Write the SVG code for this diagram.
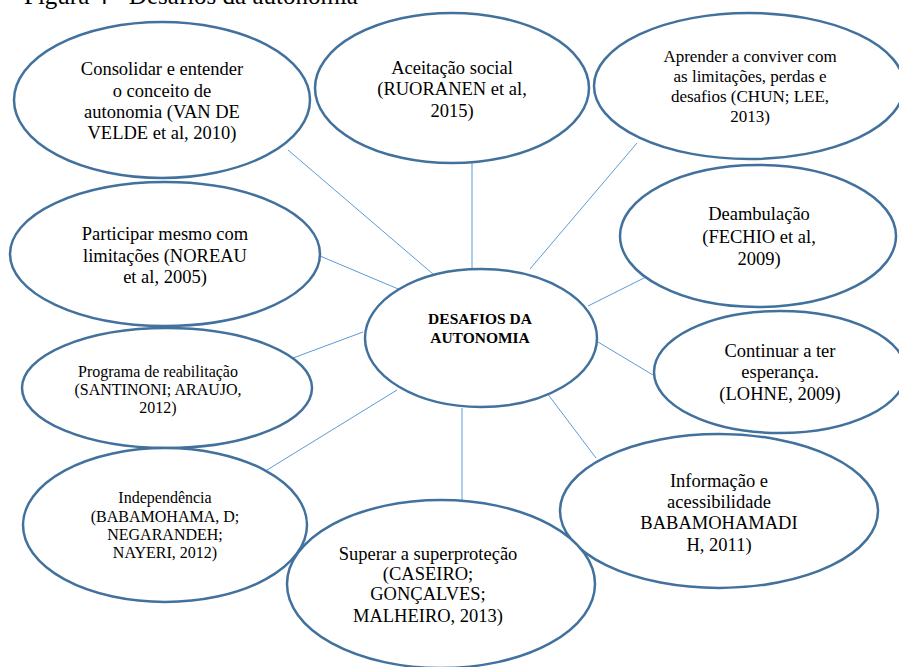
<svg xmlns="http://www.w3.org/2000/svg" width="899" height="667" viewBox="0 0 899 667">
<style>
.node ellipse{fill:#fff;stroke:#41719C;stroke-width:2.5}
.t{font-family:"Liberation Serif","Times New Roman",serif;font-size:18.5px;fill:#000;text-anchor:middle}
.s{font-size:16px}
.m{font-size:17px}
.b{font-weight:bold;font-size:15.5px}
#connectors line{stroke:#5B9BD5;stroke-width:1}
</style>
<rect width="899" height="667" fill="#fff"/>
<text x="24" y="4" style="font-family:'Liberation Serif','Times New Roman',serif;font-size:25px">Figura 4 - Desafios da autonomia</text>
<g id="connectors">
<line x1="288" y1="150" x2="433" y2="274"/>
<line x1="472" y1="160" x2="472" y2="269"/>
<line x1="637" y1="143" x2="530" y2="269"/>
<line x1="320" y1="256" x2="403" y2="291"/>
<line x1="652" y1="274" x2="588" y2="306"/>
<line x1="598" y1="342" x2="653" y2="375"/>
<line x1="293" y1="358" x2="363" y2="332"/>
<line x1="397" y1="390" x2="267" y2="470"/>
<line x1="462" y1="408" x2="462" y2="500"/>
<line x1="547" y1="393" x2="596" y2="458"/>
</g>
<g id="n-consolidar" class="node"><ellipse cx="162" cy="100" rx="148" ry="78"/>
<text class="t"><tspan x="162" y="75">Consolidar e entender</tspan><tspan x="162" y="97">o conceito de</tspan><tspan x="162" y="118">autonomia (VAN DE</tspan><tspan x="162" y="139">VELDE et al, 2010)</tspan></text></g>
<g id="n-aceitacao" class="node"><ellipse cx="452" cy="88" rx="137" ry="75"/>
<text class="t"><tspan x="452" y="74">Aceitação social</tspan><tspan x="452" y="95">(RUORANEN et al,</tspan><tspan x="452" y="117">2015)</tspan></text></g>
<g id="n-aprender" class="node"><ellipse cx="749" cy="86" rx="155" ry="73"/>
<text class="t m"><tspan x="750" y="62">Aprender a conviver com</tspan><tspan x="750" y="82">as limitações, perdas e</tspan><tspan x="750" y="102">desafios (CHUN; LEE,</tspan><tspan x="750" y="122">2013)</tspan></text></g>
<g id="n-participar" class="node"><ellipse cx="165" cy="254" rx="155" ry="72"/>
<text class="t"><tspan x="165" y="240">Participar mesmo com</tspan><tspan x="165" y="262">limitações (NOREAU</tspan><tspan x="165" y="283">et al, 2005)</tspan></text></g>
<g id="n-deambulacao" class="node"><ellipse cx="758" cy="236" rx="138" ry="71"/>
<text class="t"><tspan x="759" y="220">Deambulação</tspan><tspan x="759" y="243">(FECHIO et al,</tspan><tspan x="759" y="265">2009)</tspan></text></g>
<g id="n-centro" class="node"><ellipse cx="481" cy="338" rx="116" ry="69"/>
<text class="t b"><tspan x="480" y="324">DESAFIOS DA</tspan><tspan x="480" y="343">AUTONOMIA</tspan></text></g>
<g id="n-programa" class="node"><ellipse cx="167" cy="388" rx="145" ry="60"/>
<text class="t s"><tspan x="158" y="377">Programa de reabilitação</tspan><tspan x="158" y="395">(SANTINONI; ARAUJO,</tspan><tspan x="158" y="413">2012)</tspan></text></g>
<g id="n-continuar" class="node"><ellipse cx="780" cy="372" rx="126" ry="61"/>
<text class="t"><tspan x="780" y="357">Continuar a ter</tspan><tspan x="780" y="378">esperança.</tspan><tspan x="780" y="400">(LOHNE, 2009)</tspan></text></g>
<g id="n-independencia" class="node"><ellipse cx="165" cy="525" rx="142" ry="77"/>
<text class="t s"><tspan x="165" y="503">Independência</tspan><tspan x="165" y="522">(BABAMOHAMA, D;</tspan><tspan x="165" y="540">NEGARANDEH;</tspan><tspan x="165" y="558">NAYERI, 2012)</tspan></text></g>
<g id="n-informacao" class="node"><ellipse cx="719" cy="511" rx="159" ry="77"/>
<text class="t"><tspan x="719" y="487">Informação e</tspan><tspan x="719" y="508">acessibilidade</tspan><tspan x="719" y="529">BABAMOHAMADI</tspan><tspan x="719" y="551">H, 2011)</tspan></text></g>
<g id="n-superar" class="node"><ellipse cx="441" cy="584" rx="154" ry="84"/>
<text class="t"><tspan x="428" y="560">Superar a superproteção</tspan><tspan x="428" y="580">(CASEIRO;</tspan><tspan x="428" y="600">GONÇALVES;</tspan><tspan x="428" y="622">MALHEIRO, 2013)</tspan></text></g>
</svg>
